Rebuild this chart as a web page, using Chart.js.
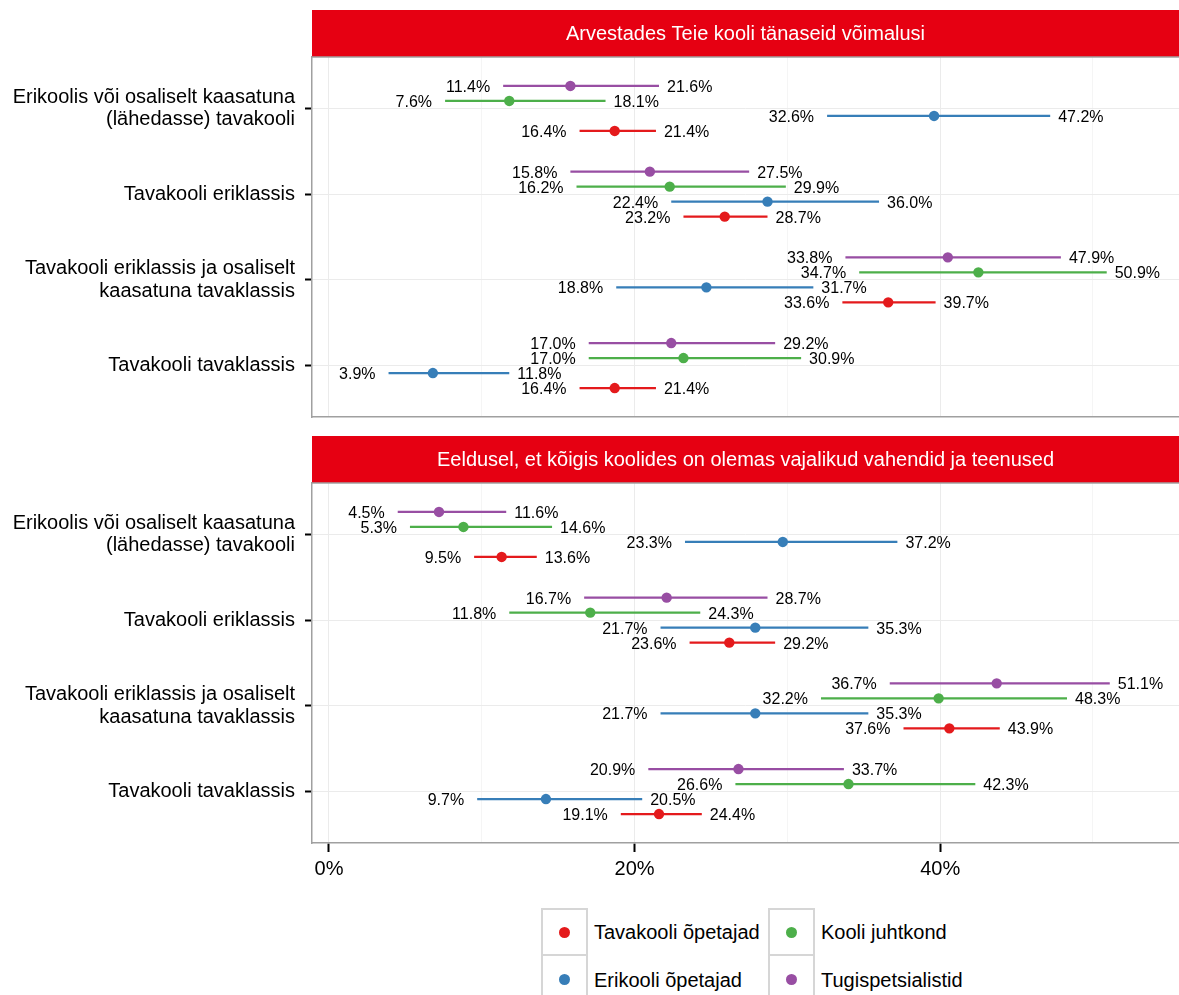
<!DOCTYPE html>
<html>
<head>
<meta charset="utf-8">
<script src="https://cdn.jsdelivr.net/npm/chart.js@4/dist/chart.umd.min.js"></script>
<style>
  body { margin: 0; background: #fff; font-family: "Liberation Sans", Arial, sans-serif; }
  #wrap { position: relative; width: 1179px; height: 995px; overflow: hidden; }
  canvas { position: absolute; left: 0; }
  #chartTop { top: 0; }
  #chartBottom { top: 426px; }
  #legend { position: absolute; left: 541px; top: 908px; display: grid;
            grid-template-rows: 48px 48px; grid-auto-flow: column; grid-template-columns: 227px auto; }
  .item { display: flex; align-items: center; font-size: 20px; color: #000; }
  .key { width: 43px; height: 44px; border: 2px solid #d6d6d6; position: relative; margin-right: 6px; }
  .row2 .key { border-top: none; height: 46px; }
  .dot { position: absolute; left: 50%; top: 50%; width: 11px; height: 11px; margin: -5.5px 0 0 -5.5px; border-radius: 50%; }
</style>
</head>
<body>
<div id="wrap">
  <canvas id="chartTop" width="1179" height="420"></canvas>
  <canvas id="chartBottom" width="1179" height="480"></canvas>
  <div id="legend"></div>
</div>
<script>
// Data
const categories = [
    ['Erikoolis või osaliselt kaasatuna', '(lähedasse) tavakooli'],
    'Tavakooli eriklassis',
    ['Tavakooli eriklassis ja osaliselt', 'kaasatuna tavaklassis'],
    'Tavakooli tavaklassis'
];
const seriesNames = ['Tavakooli õpetajad', 'Erikooli õpetajad', 'Kooli juhtkond', 'Tugispetsialistid'];
const seriesColors = ['#E41A1C', '#377EB8', '#4DAF4A', '#984EA3'];
const panelTitles = ['Arvestades Teie kooli tänaseid võimalusi',
                     'Eeldusel, et kõigis koolides on olemas vajalikud vahendid ja teenused'];

// one row per series (same order as seriesNames), one value per category
const topEst = [[18.7, 25.9, 36.6, 18.7], [39.6, 28.7, 24.7, 6.8], [11.8, 22.3, 42.5, 23.2], [15.8, 21.0, 40.5, 22.4]];
const topLo  = [[16.4, 23.2, 33.6, 16.4], [32.6, 22.4, 18.8, 3.9], [7.6, 16.2, 34.7, 17.0], [11.4, 15.8, 33.8, 17.0]];
const topHi  = [[21.4, 28.7, 39.7, 21.4], [47.2, 36.0, 31.7, 11.8], [18.1, 29.9, 50.9, 30.9], [21.6, 27.5, 47.9, 29.2]];

const bottomEst = [[11.3, 26.2, 40.6, 21.6], [29.7, 27.9, 27.9, 14.2], [8.8, 17.1, 39.9, 34.0], [7.2, 22.1, 43.7, 26.8]];
const bottomLo  = [[9.5, 23.6, 37.6, 19.1], [23.3, 21.7, 21.7, 9.7], [5.3, 11.8, 32.2, 26.6], [4.5, 16.7, 36.7, 20.9]];
const bottomHi  = [[13.6, 29.2, 43.9, 24.4], [37.2, 35.3, 35.3, 20.5], [14.6, 24.3, 48.3, 42.3], [11.6, 28.7, 51.1, 33.7]];

const xGridTicks = [0, 10, 20, 30, 40, 50];
const xLabelTicks = [0, 20, 40];

const FONT = '"Liberation Sans", Arial, sans-serif';
const dodge = [0.2625, 0.0875, -0.0875, -0.2625]; // position_dodge(0.7) for 4 groups

function noPadding(s) {
    s.paddingTop = 0; s.paddingBottom = 0; s.paddingLeft = 0; s.paddingRight = 0;
}

function makePanel(canvasId, title, est, lo, hi, showX) {
    const datasets = [];
    seriesNames.forEach(function (name, s) {
        const seg = [];
        categories.forEach(function (c, i) {
            seg.push({ x: lo[s][i], y: i + dodge[s] });
            seg.push({ x: hi[s][i], y: i + dodge[s] });
            seg.push({ x: null, y: null });
        });
        datasets.push({
            type: 'line', label: name, data: seg, showLine: true, spanGaps: false,
            borderColor: seriesColors[s], borderWidth: 2.2, pointRadius: 0, order: 2
        });
        datasets.push({
            type: 'scatter', label: name,
            data: categories.map(function (c, i) { return { x: est[s][i], y: i + dodge[s] }; }),
            backgroundColor: seriesColors[s], borderWidth: 0, pointRadius: 5.2, order: 1
        });
    });

    new Chart(document.getElementById(canvasId), {
        type: 'scatter',
        data: { datasets: datasets },
        options: {
            responsive: false,
            animation: false,
            events: [],
            layout: { autoPadding: false, padding: { top: 57, left: 0, right: 0, bottom: 0 } },
            plugins: { legend: { display: false }, tooltip: { enabled: false } },
            scales: {
                x: {
                    type: 'linear', min: -1.11, max: 55.63,
                    afterBuildTicks: function (s) { s.ticks = xGridTicks.map(function (v) { return { value: v }; }); },
                    afterFit: function (s) { s.height = showX ? 63 : 3; noPadding(s); },
                    ticks: {
                        display: showX, autoSkip: false, maxRotation: 0, padding: 5, color: '#000',
                        font: { size: 20, family: FONT },
                        callback: function (v) { return xLabelTicks.includes(v) ? v + '%' : ''; }
                    },
                    grid: {
                        color: function (c) { return c.tick && c.tick.value % 20 === 0 ? '#ebebeb' : '#f5f5f5'; },
                        tickColor: function (c) { return c.tick && c.tick.value % 20 === 0 ? '#000' : 'rgba(0,0,0,0)'; },
                        drawTicks: showX, tickLength: 9, tickWidth: 2
                    },
                    border: { display: true, color: '#a0a0a0', width: 1.5 }
                },
                y: {
                    type: 'linear', reverse: true, min: -0.6, max: 3.6,
                    afterBuildTicks: function (s) { s.ticks = categories.map(function (c, i) { return { value: i }; }); },
                    afterFit: function (s) { s.width = 312; noPadding(s); },
                    ticks: {
                        autoSkip: false, padding: 10, color: '#000',
                        font: { size: 20, family: FONT, lineHeight: 1.12 },
                        callback: function (v) { return categories[v]; }
                    },
                    grid: { color: '#ebebeb', tickColor: '#000', tickLength: 7, tickWidth: 2 },
                    border: { display: true, color: '#a0a0a0', width: 1.5 }
                }
            }
        },
        plugins: [{
            id: 'strip',
            afterDraw: function (chart) {
                const ctx = chart.ctx, a = chart.chartArea;
                ctx.save();
                ctx.fillStyle = 'rgb(230,0,18)';
                ctx.fillRect(a.left, 10, a.right - a.left, a.top - 10);
                ctx.strokeStyle = '#a0a0a0';
                ctx.lineWidth = 1.5;
                ctx.beginPath(); ctx.moveTo(a.left, a.top); ctx.lineTo(a.right, a.top); ctx.stroke();
                ctx.fillStyle = '#fff';
                ctx.font = '20px ' + FONT;
                ctx.textAlign = 'center';
                ctx.textBaseline = 'middle';
                ctx.fillText(title, (a.left + a.right) / 2, (10 + a.top) / 2 + 1);
                ctx.restore();
            }
        }, {
            id: 'ciLabels',
            afterDatasetsDraw: function (chart) {
                const ctx = chart.ctx, xs = chart.scales.x, ys = chart.scales.y;
                ctx.save();
                ctx.font = '16px ' + FONT;
                ctx.fillStyle = '#000';
                ctx.textBaseline = 'middle';
                seriesNames.forEach(function (name, s) {
                    categories.forEach(function (c, i) {
                        const py = ys.getPixelForValue(i + dodge[s]) + 1.5;
                        ctx.textAlign = 'right';
                        ctx.fillText(lo[s][i].toFixed(1) + '%', xs.getPixelForValue(lo[s][i]) - 13, py);
                        ctx.textAlign = 'left';
                        ctx.fillText(hi[s][i].toFixed(1) + '%', xs.getPixelForValue(hi[s][i]) + 8, py);
                    });
                });
                ctx.restore();
            }
        }]
    });
}

makePanel('chartTop', panelTitles[0], topEst, topLo, topHi, false);
makePanel('chartBottom', panelTitles[1], bottomEst, bottomLo, bottomHi, true);

// Legend (2 columns, ggplot-style keys)
const legend = document.getElementById('legend');
seriesNames.forEach(function (name, s) {
    const item = document.createElement('div');
    item.className = 'item' + (s % 2 === 1 ? ' row2' : '');
    item.innerHTML = '<div class="key"><div class="dot" style="background:' + seriesColors[s] + '"></div></div><span>' + name + '</span>';
    legend.appendChild(item);
});
</script>
</body>
</html>
